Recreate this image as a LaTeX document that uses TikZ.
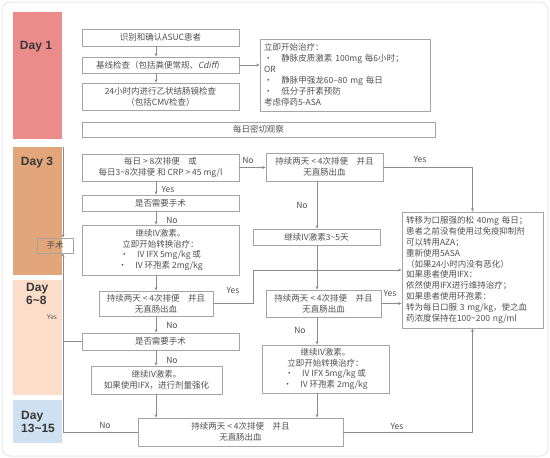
\documentclass[tikz,border=0pt]{standalone}
\usepackage{fontspec}
\setmainfont{Noto Sans CJK SC}
\newfontfamily\dayfont{Liberation Sans}
\newfontfamily\slfont{Noto Sans CJK SC}[FakeSlant=0.2]
\usetikzlibrary{arrows.meta}
\definecolor{dayA}{RGB}{236,140,138}
\definecolor{dayB}{RGB}{226,166,122}
\definecolor{dayC}{RGB}{251,221,202}
\definecolor{dayD}{RGB}{207,224,240}
\definecolor{boxc}{RGB}{165,165,165}
\definecolor{linec}{RGB}{140,140,140}
\definecolor{txtc}{RGB}{80,80,80}
\definecolor{dayt}{RGB}{55,55,55}
\begin{document}
\begin{tikzpicture}[x=1pt,y=-1pt,
  box/.style={draw=boxc, line width=0.8pt, inner sep=0pt, align=center, font=\fontsize{8.5}{11}\selectfont, text=txtc},
  con/.style={draw=linec, line width=0.8pt},
  arr/.style={con, -{Stealth[length=3.5pt,width=3pt]}},
  lbl/.style={font=\fontsize{8.5}{10}\selectfont, text=txtc, inner sep=0pt},
  daybox/.style={fill=#1, draw=none, inner sep=0pt},
  daylbl/.style={font=\dayfont\bfseries\fontsize{12}{13}\selectfont, text=dayt, inner sep=0pt, align=left},
]
\useasboundingbox (0,0) rectangle (550,458);
\draw[gray!18, line width=1pt, rounded corners=8pt] (2,2) rectangle (548,456);

% day column
\node[daybox=dayA, minimum width=49pt, minimum height=127pt] (day1) at (37.5,75.5) {};
\node[daybox=dayB, minimum width=49pt, minimum height=128pt] (day3) at (37.5,211) {};
\node[daybox=dayC, minimum width=49pt, minimum height=115pt] (day6) at (37.5,337.5) {};
\node[daybox=dayD, minimum width=49pt, minimum height=43pt] (day13) at (37.5,421.5) {};
\node[daylbl] (t1) at (36,47) {Day 1};
\node[daylbl] (t3) at (37,163) {Day 3};
\node[daylbl, anchor=west] (t6) at (26,293.5) {Day\\6\textasciitilde 8};
\node[daylbl, anchor=west] (t13) at (21,421.5) {Day\\13\textasciitilde 15};
\coordinate (lx) at (63,0);
\coordinate (ax) at (156,0);
\coordinate (mx) at (317,0);

% Day 1
\node[box, minimum width=157pt, minimum height=17pt] (b1) at (160.5,37.5) {识别和确认ASUC患者};
\node[box, minimum width=157pt, minimum height=16pt] (b2) at (160.5,65) {基线检查（包括粪便常规、{\slfont Cdiff}）};
\node[box, minimum width=157pt, minimum height=27pt] (b3) at (160.5,96.5) {24小时内进行乙状结肠镜检查\\（包括CMV检查）};
\node[box, minimum width=353pt, minimum height=15pt] (b4) at (258.5,129.5) {每日密切观察};
\node[box, minimum width=170pt, minimum height=72pt, align=left, text width=162pt, inner xsep=4pt, font=\fontsize{8.5}{11}\selectfont] (r1) at (345,75)
 {立即开始治疗：\\
 •\hspace{9pt}静脉皮质激素 100mg 每6小时；\\
 OR\\
 •\hspace{9pt}静脉甲强龙60–80 mg 每日\\
 •\hspace{9pt}低分子肝素预防\\
 考虑停药5-ASA};
\draw[arr] (b1.south -| ax) -- (b2.north -| ax);
\draw[arr] (b2.south -| ax) -- (b3.north -| ax);
\draw[arr] (b2.east) -- (b2.east -| r1.west);

% Day 3
\node[box, minimum width=157pt, minimum height=27pt] (c1) at (160.5,167.5) {每日 > 8次排便\quad 或\\每日3\textasciitilde 8次排便 和 CRP > 45 mg/l};
\node[box, minimum width=157pt, minimum height=16pt] (c2) at (160.5,203) {是否需要手术};
\node[box, minimum width=157pt, minimum height=50pt, font=\fontsize{8.5}{10.7}\selectfont] (c3) at (160.5,250) {继续IV激素。\\立即开始转换治疗：\\•\quad IV IFX 5mg/kg 或\\•\quad IV 环孢素 2mg/kg};
\node[box, minimum width=36pt, minimum height=15pt] (s) at (55,245.5) {手术};
\node[box, minimum width=117pt, minimum height=28pt] (d1) at (324.5,167) {持续两天 < 4次排便\quad 并且\\无直肠出血};
\node[box, minimum width=127pt, minimum height=16pt] (d2) at (316.5,237) {继续IV激素3\textasciitilde 5天};
\node[box, minimum width=141pt, minimum height=116pt, align=left, text width=133pt, inner xsep=4pt, font=\fontsize{8.5}{10.9}\selectfont] (g1) at (472.5,270)
 {转移为口服强的松 40mg 每日；\\
 患者之前没有使用过免疫抑制剂\\
 可以转用AZA；\\
 重新使用5ASA\\
 （如果24小时内没有恶化）\\
 如果患者使用IFX：\\
 依然使用IFX进行维持治疗；\\
 如果患者使用环孢素：\\
 转为每日口服 3 mg/kg，使之血\\
 药浓度保持在100\textasciitilde 200 ng/ml};

% Day 6-8
\node[box, minimum width=114pt, minimum height=25pt] (e1) at (156,303.5) {持续两天 < 4次排便\quad 并且\\无直肠出血};
\node[box, minimum width=157pt, minimum height=17pt] (e2) at (160.5,341.5) {是否需要手术};
\node[box, minimum width=131pt, minimum height=28pt] (e3) at (156.5,380) {继续IV激素。\\如果使用IFX，进行剂量强化};
\node[box, minimum width=115pt, minimum height=27pt] (d3) at (323.5,303.5) {持续两天 < 4次排便\quad 并且\\无直肠出血};
\node[box, minimum width=127pt, minimum height=48pt, font=\fontsize{8.5}{10.7}\selectfont] (d4) at (325.5,369) {继续IV激素。\\立即开始转换治疗：\\•\quad IV IFX 5mg/kg 或\\•\quad IV 环孢素 2mg/kg};

% Day 13-15
\node[box, minimum width=205pt, minimum height=28pt] (f1) at (240.5,432) {持续两天 < 4次排便\quad 并且\\无直肠出血};

% connectors left chain
\draw[arr] (c1.south -| ax) -- (c2.north -| ax);
\draw[arr] (c2.south -| ax) -- (c3.north -| ax);
\draw[arr] (c3.south -| ax) -- (e1.north -| ax);
\draw[arr] (e1.south -| ax) -- (e2.north -| ax);
\draw[arr] (e2.south -| ax) -- (e3.north -| ax);
\draw[arr] (e3.south -| ax) -- (f1.north -| ax);
\node[lbl] (ly1) at (168,189) {Yes};
\node[lbl] (ln1) at (172,220) {No};
\node[lbl] (ln2) at (172,325) {No};
\node[lbl] (ln3) at (172,360) {No};

% surgery line
\draw[arr] (lx |- day3.north) -- (lx |- s.north);
\draw[arr] (f1.west) -| (lx |- s.south);
\draw[con] (e2.west) -- (e2.west -| lx);
\node[lbl, font=\fontsize{6.5}{8}\selectfont] (lys) at (52,317) {Yes};
\node[lbl] (lnf) at (105,425) {No};

% middle column
\draw[arr] (c1.east) -- (c1.east -| d1.west);
\node[lbl] (lnc) at (248,160) {No};
\draw[arr] (mx |- d1.south) -- (mx |- d2.north);
\node[lbl] (lnd) at (302,205) {No};
\draw[arr] (mx |- d2.south) -- (mx |- d3.north);
\draw[arr] (mx |- d3.south) -- (mx |- d4.north);
\node[lbl] (lnd3) at (300,330) {No};
\draw[arr] (mx |- d4.south) -- (mx |- f1.north);

% to G1
\draw[arr] (d1.east) -| (g1.north);
\node[lbl] (lyd1) at (420,159) {Yes};
\draw[arr] (d3.east) -- (d3.east -| g1.west);
\node[lbl] (lyd3) at (390,293) {Yes};
\draw[arr] (e1.east) -- ++(40,0) |- (g1.west);
\node[lbl] (lye1) at (233,290) {Yes};
\draw[arr] (f1.east) -| (g1.south);
\node[lbl] (lyf1) at (397,426) {Yes};
\end{tikzpicture}
\end{document}
